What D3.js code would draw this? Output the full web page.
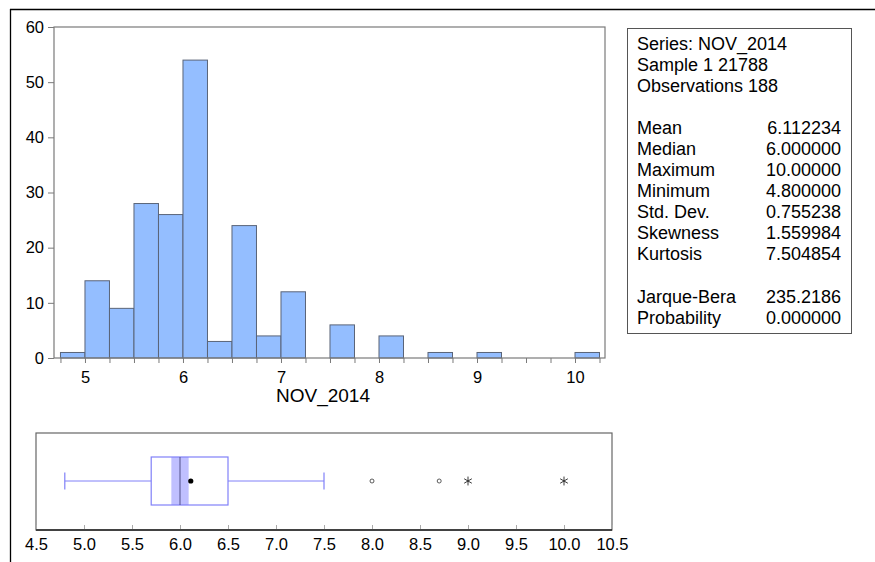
<!DOCTYPE html>
<html>
<head>
<meta charset="utf-8">
<script src="https://cdn.jsdelivr.net/npm/d3@7"></script>
<style>
  html, body { margin: 0; padding: 0; background: #fff; }
  svg { display: block; }
  text { font-family: "Liberation Sans", Arial, sans-serif; fill: #000; }
</style>
</head>
<body>
<svg id="chart" width="875" height="562"></svg>
<script>
// ---------- data ----------
const seriesName = "NOV_2014";
const binStarts = [4.75, 5.0, 5.25, 5.5, 5.75, 6.0, 6.25, 6.5, 6.75, 7.0, 7.25, 7.5, 7.75, 8.0, 8.25, 8.5, 8.75, 9.0, 9.25, 9.5, 9.75, 10.0];
const binCounts = [1, 14, 9, 28, 26, 54, 3, 24, 4, 12, 0, 6, 0, 4, 0, 1, 0, 1, 0, 0, 0, 1];
const binWidth = 0.25;
const histYTicks = [0, 10, 20, 30, 40, 50, 60];
const histXTickLabels = [5, 6, 7, 8, 9, 10];

const statHeader = ["Series: NOV_2014", "Sample 1 21788", "Observations 188"];
const statLabels = ["Mean", "Median", "Maximum", "Minimum", "Std. Dev.", "Skewness", "Kurtosis"];
const statValues = ["6.112234", "6.000000", "10.00000", "4.800000", "0.755238", "1.559984", "7.504854"];
const testLabels = ["Jarque-Bera", "Probability"];
const testValues = ["235.2186", "0.000000"];

// box plot summary
const boxStats = { min: 4.8, q1: 5.7, median: 6.0, q3: 6.5, mean: 6.112234, whiskerHi: 7.5, ciLo: 5.91, ciHi: 6.09 };
const nearOutliers = [8.0, 8.7];
const farOutliers = [9.0, 10.0];
const boxXTicks = [4.5, 5.0, 5.5, 6.0, 6.5, 7.0, 7.5, 8.0, 8.5, 9.0, 9.5, 10.0, 10.5];

// ---------- drawing ----------
const svg = d3.select("#chart");

// outer frame (top + left lines)
svg.append("line").attr("x1", 10).attr("x2", 875).attr("y1", 9.5).attr("y2", 9.5).attr("stroke", "#000").attr("stroke-width", 1.3);
svg.append("line").attr("x1", 10.5).attr("x2", 10.5).attr("y1", 9).attr("y2", 562).attr("stroke", "#000").attr("stroke-width", 1.3);

// histogram
const H = { left: 54, right: 605, top: 27, bottom: 358 };
const x = d3.scaleLinear().domain([4.684, 10.306]).range([H.left, H.right]);
const y = d3.scaleLinear().domain([0, 60]).range([H.bottom, H.top]);

const hist = svg.append("g");
const bins = binStarts.map((s, i) => ({ x0: s, x1: s + binWidth, n: binCounts[i] })).filter(d => d.n > 0);

hist.selectAll("rect.bar").data(bins).enter().append("rect")
  .attr("class", "bar")
  .attr("x", d => x(d.x0))
  .attr("width", d => x(d.x1) - x(d.x0))
  .attr("y", d => y(d.n))
  .attr("height", d => y(0) - y(d.n))
  .attr("fill", "#94BEFF")
  .attr("stroke", "#5a6478")
  .attr("stroke-width", 1);

// frame
hist.append("rect").attr("x", H.left).attr("y", H.top)
  .attr("width", H.right - H.left).attr("height", H.bottom - H.top)
  .attr("fill", "none").attr("stroke", "#7a7a7a").attr("stroke-width", 1.2);

// y axis
const yAxis = d3.axisLeft(y).tickValues(histYTicks).tickSize(6).tickPadding(4).tickFormat(d3.format("d"));
const gy = hist.append("g").attr("transform", `translate(${H.left},0)`).call(yAxis);
gy.select(".domain").remove();
gy.selectAll(".tick line").attr("stroke", "#7a7a7a");
gy.selectAll(".tick text").style("font-size", "16.5px").style("font-family", "Liberation Sans, Arial, sans-serif");

// x axis: minor ticks every 0.25, labels at integers
const minorTicks = d3.range(4.75, 10.26, 0.25).map(v => +v.toFixed(2));
const xAxis = d3.axisBottom(x).tickValues(minorTicks).tickSize(5).tickPadding(8)
  .tickFormat(d => histXTickLabels.includes(d) ? d3.format("d")(d) : "");
const gx = hist.append("g").attr("transform", `translate(0,${H.bottom})`).call(xAxis);
gx.select(".domain").remove();
gx.selectAll(".tick line").attr("stroke", "#7a7a7a");
gx.selectAll(".tick text").style("font-size", "16.5px").style("font-family", "Liberation Sans, Arial, sans-serif");

hist.append("text").attr("x", 323).attr("y", 402).attr("text-anchor", "middle")
  .style("font-size", "19px").text(seriesName);

// stats box
const S = { left: 627, top: 28, right: 851, bottom: 333 };
svg.append("rect").attr("x", S.left + 0.5).attr("y", S.top + 0.5)
  .attr("width", S.right - S.left).attr("height", S.bottom - S.top)
  .attr("fill", "none").attr("stroke", "#555").attr("stroke-width", 1);

const lineH = 21;
const g = svg.append("g").style("font-size", "18px");
statHeader.forEach((t, i) => {
  g.append("text").attr("x", 637).attr("y", 50 + i * lineH).text(t);
});
statLabels.forEach((t, i) => {
  g.append("text").attr("x", 637).attr("y", 134 + i * lineH).text(t);
  g.append("text").attr("x", 841).attr("y", 134 + i * lineH).attr("text-anchor", "end").text(statValues[i]);
});
testLabels.forEach((t, i) => {
  g.append("text").attr("x", 637).attr("y", 303 + i * lineH).text(t);
  g.append("text").attr("x", 841).attr("y", 303 + i * lineH).attr("text-anchor", "end").text(testValues[i]);
});

// box plot
const B = { left: 36, right: 612, top: 433, bottom: 530 };
const bx = d3.scaleLinear().domain([4.5, 10.5]).range([B.left, B.right]);
const bp = svg.append("g");
const cy = 481, halfH = 24, capH = 8.5;

bp.append("rect").attr("x", B.left).attr("y", B.top).attr("width", B.right - B.left).attr("height", B.bottom - B.top)
  .attr("fill", "none").attr("stroke", "#666").attr("stroke-width", 1.2);

const bAxis = d3.axisTop(bx).tickValues(boxXTicks).tickSize(5).tickFormat("");
const gb = bp.append("g").attr("transform", `translate(0,${B.bottom})`).call(bAxis);
gb.select(".domain").remove();
gb.selectAll(".tick line").attr("stroke", "#aaa");
const gbl = bp.append("g").attr("transform", `translate(0,${B.bottom})`)
  .call(d3.axisBottom(bx).tickValues(boxXTicks).tickSize(0).tickPadding(8).tickFormat(d3.format(".1f")));
gbl.select(".domain").remove();
gbl.selectAll(".tick text").style("font-size", "16.5px").style("font-family", "Liberation Sans, Arial, sans-serif");
bp.append("line").attr("x1", B.left).attr("x2", B.right).attr("y1", B.bottom).attr("y2", B.bottom)
  .attr("stroke", "#222").attr("stroke-width", 1.3);

const boxColor = "#8080F8";
// whiskers
bp.append("line").attr("x1", bx(boxStats.min)).attr("x2", bx(boxStats.q1)).attr("y1", cy).attr("y2", cy).attr("stroke", boxColor);
bp.append("line").attr("x1", bx(boxStats.q3)).attr("x2", bx(boxStats.whiskerHi)).attr("y1", cy).attr("y2", cy).attr("stroke", boxColor);
[boxStats.min, boxStats.whiskerHi].forEach(v => {
  bp.append("line").attr("x1", bx(v)).attr("x2", bx(v)).attr("y1", cy - capH).attr("y2", cy + capH).attr("stroke", boxColor).attr("stroke-width", 1.2);
});
// median CI band
bp.append("rect").attr("x", bx(boxStats.ciLo)).attr("width", bx(boxStats.ciHi) - bx(boxStats.ciLo))
  .attr("y", cy - halfH).attr("height", 2 * halfH).attr("fill", "#C0C0FF");
// box
bp.append("rect").attr("x", bx(boxStats.q1)).attr("width", bx(boxStats.q3) - bx(boxStats.q1))
  .attr("y", cy - halfH).attr("height", 2 * halfH).attr("fill", "none").attr("stroke", boxColor).attr("stroke-width", 1.2);
// median
bp.append("line").attr("x1", bx(boxStats.median)).attr("x2", bx(boxStats.median)).attr("y1", cy - halfH).attr("y2", cy + halfH)
  .attr("stroke", "#50508a").attr("stroke-width", 1);
// mean
bp.append("circle").attr("cx", bx(boxStats.mean)).attr("cy", cy).attr("r", 2.6).attr("fill", "#000");
// near outliers
bp.selectAll("circle.near").data(nearOutliers).enter().append("circle").attr("class", "near")
  .attr("cx", d => bx(d)).attr("cy", cy).attr("r", 2).attr("fill", "none").attr("stroke", "#333").attr("stroke-width", 0.8);
// far outliers (asterisks)
const star = d3.symbol().type(d3.symbolAsterisk).size(55);
bp.selectAll("path.far").data(farOutliers).enter().append("path").attr("class", "far")
  .attr("transform", d => `translate(${bx(d)},${cy})`)
  .attr("d", star).attr("fill", "none").attr("stroke", "#222").attr("stroke-width", 0.9);
</script>
</body>
</html>
